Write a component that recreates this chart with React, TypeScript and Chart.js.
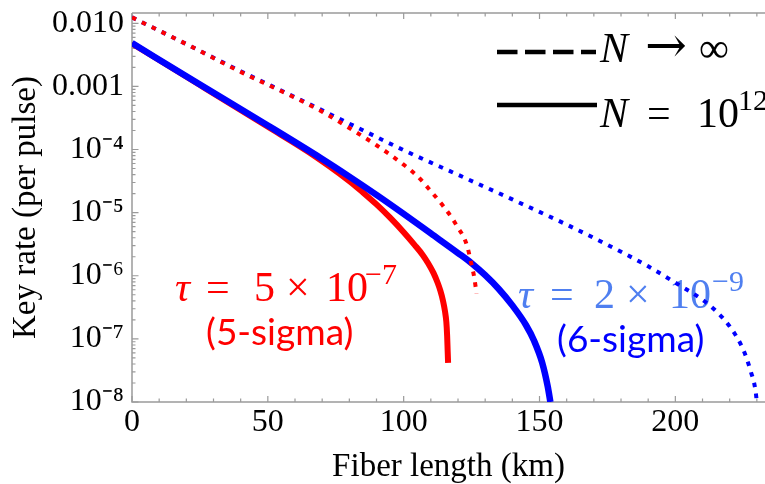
import React, { useEffect, useRef } from "react";
import { Chart, registerables } from "chart.js";

Chart.register(...registerables);

// ---------- axis ticks ----------
const xTickValues = [0, 50, 100, 150, 200];
const yTickValues = [1e-8, 1e-7, 1e-6, 1e-5, 1e-4, 1e-3, 1e-2];
const yTickLabels = ["10⁻⁸", "10⁻⁷", "10⁻⁶", "10⁻⁵", "10⁻⁴", "0.001", "0.010"];
const X_MIN = 0;
const X_MAX = 233;
const Y_MIN = 1e-8;
const Y_MAX = 0.01455;

// ---------- series: N -> infinity, tau = 5e-7 (red dotted) ----------
const redInfKm = [0, 20, 40, 60, 70, 80, 90, 100, 105, 110, 115, 118, 120, 122, 123.5, 125, 126, 126.8];
const redInfRate = [1.24e-2, 4.68e-3, 1.70e-3, 6.61e-4, 3.98e-4, 2.19e-4, 1.17e-4, 5.75e-5, 3.80e-5, 2.19e-5, 1.20e-5, 7.94e-6, 5.75e-6, 4.17e-6, 2.82e-6, 1.48e-6, 9.33e-7, 5.25e-7];

// ---------- series: N -> infinity, tau = 2e-9 (blue dotted) ----------
const blueInfKm = [0, 20, 40, 60, 80, 100, 120, 140, 160, 180, 190, 200, 210, 215, 220, 224, 226, 228, 229, 229.6, 230];
const blueInfRate = [1.24e-2, 4.68e-3, 1.74e-3, 6.76e-4, 2.57e-4, 9.77e-5, 3.98e-5, 1.62e-5, 6.46e-6, 2.40e-6, 1.41e-6, 7.76e-7, 4.17e-7, 2.75e-7, 1.58e-7, 8.32e-8, 5.25e-8, 2.82e-8, 2.00e-8, 1.41e-8, 1.0e-8];

// ---------- series: N = 1e12, tau = 2e-9 (blue solid) ----------
const blueFinKm = [0, 25, 50, 70, 80, 90, 100, 110, 120, 125, 130, 135, 140, 145, 148, 151, 153, 154];
const blueFinRate = [4.86e-3, 1.07e-3, 2.40e-4, 7.08e-5, 3.72e-5, 1.91e-5, 9.55e-6, 4.68e-6, 2.29e-6, 1.58e-6, 1.02e-6, 6.17e-7, 3.39e-7, 1.66e-7, 9.33e-8, 4.17e-8, 1.78e-8, 1.0e-8];

// ---------- series: N = 1e12, tau = 5e-7 (red solid) ----------
const redFinKm = [0, 25, 50, 65, 80, 85, 90, 95, 100, 104, 107, 109, 111, 112.5, 113.5, 114.5, 115.2, 115.7, 116.0, 116.2, 116.35];
const redFinRate = [4.79e-3, 1.05e-3, 2.29e-4, 9.12e-5, 3.16e-5, 2.09e-5, 1.35e-5, 8.32e-6, 4.90e-6, 3.09e-6, 2.14e-6, 1.58e-6, 1.10e-6, 7.76e-7, 5.82e-7, 3.98e-7, 2.75e-7, 1.86e-7, 1.12e-7, 6.31e-8, 4.17e-8];

const SERIF = '"Liberation Serif", "Times New Roman", serif';
const SANS = 'Lato, "Open Sans", sans-serif';
const RED = "#ff0000";
const BLUE = "#0000ff";
const LIGHT_BLUE = "#4f7ff0";

const toPoints = (xs: number[], ys: number[]) => xs.map((x, i) => ({ x, y: ys[i] }));

type Piece = { t: string; x: number; y: number; font: string };

function drawPieces(ctx: CanvasRenderingContext2D, pieces: Piece[], color: string) {
  ctx.save();
  ctx.fillStyle = color;
  ctx.textAlign = "left";
  ctx.textBaseline = "alphabetic";
  for (const p of pieces) {
    ctx.font = p.font;
    ctx.fillText(p.t, p.x, p.y);
  }
  ctx.restore();
}

const bigMath = `42px ${SERIF}`;
const bigMathIt = `italic 42px ${SERIF}`;
const supMath = `30px ${SERIF}`;
const arrowFont = `50px "DejaVu Serif", ${SERIF}`;

const framePlugin = {
  id: "framePlugin",
  beforeDatasetsDraw(chart: any) {
    const ctx: CanvasRenderingContext2D = chart.ctx;
    const { left, right, top, bottom } = chart.chartArea;
    const xs = chart.scales.x;
    const ys = chart.scales.y;
    ctx.save();
    ctx.strokeStyle = "#9a9a9a";
    ctx.lineWidth = 1.5;
    ctx.beginPath();
    ctx.moveTo(left, top);
    ctx.lineTo(right, top);
    ctx.moveTo(left, top);
    ctx.lineTo(left, bottom);
    ctx.lineTo(right, bottom);
    ctx.stroke();
    ctx.lineWidth = 1.2;
    ctx.beginPath();
    for (let v = 0; v <= X_MAX; v += 10) {
      const px = xs.getPixelForValue(v);
      const len = v % 50 === 0 ? 6 : 3.5;
      ctx.moveTo(px, bottom);
      ctx.lineTo(px, bottom - len);
      ctx.moveTo(px, top);
      ctx.lineTo(px, top + len);
    }
    for (let k = -8; k <= -2; k++) {
      for (let m = 1; m <= 9; m++) {
        const v = m * Math.pow(10, k);
        if (v > Y_MAX) continue;
        const py = ys.getPixelForValue(v);
        const len = m === 1 ? 6.5 : 3.5;
        ctx.moveTo(left, py);
        ctx.lineTo(left + len, py);
      }
    }
    ctx.stroke();
    ctx.restore();

    // annotations
    drawPieces(
      ctx,
      [
        { t: "τ", x: 175, y: 301, font: bigMathIt },
        { t: "=", x: 206, y: 301, font: bigMath },
        { t: "5", x: 254, y: 301, font: bigMath },
        { t: "×", x: 286, y: 301, font: bigMath },
        { t: "10", x: 326, y: 301, font: bigMath },
        { t: "−7", x: 365, y: 284, font: supMath },
      ],
      RED
    );
    drawPieces(ctx, [{ t: "(5-sigma)", x: 206, y: 345, font: `37px ${SANS}` }], RED);
    drawPieces(
      ctx,
      [
        { t: "τ", x: 518, y: 308, font: bigMathIt },
        { t: "=", x: 550, y: 308, font: bigMath },
        { t: "2", x: 594, y: 308, font: bigMath },
        { t: "×", x: 626, y: 308, font: bigMath },
        { t: "10", x: 669, y: 308, font: bigMath },
        { t: "−9", x: 712, y: 291, font: supMath },
      ],
      LIGHT_BLUE
    );
    drawPieces(ctx, [{ t: "(6-sigma)", x: 557, y: 352, font: `37px ${SANS}` }], BLUE);
  },
  afterDatasetsDraw(chart: any) {
    const ctx: CanvasRenderingContext2D = chart.ctx;
    ctx.save();
    ctx.strokeStyle = "#000";
    ctx.lineWidth = 4.5;
    ctx.lineCap = "butt";
    ctx.setLineDash([20.5, 7.5]);
    ctx.beginPath();
    ctx.moveTo(497, 52);
    ctx.lineTo(596, 52);
    ctx.stroke();
    ctx.setLineDash([]);
    ctx.beginPath();
    ctx.moveTo(497, 105);
    ctx.lineTo(597, 105);
    ctx.stroke();
    ctx.restore();
    drawPieces(
      ctx,
      [
        { t: "N", x: 600, y: 62, font: bigMathIt },
        { t: "→", x: 645, y: 62, font: arrowFont },
        { t: "∞", x: 699, y: 62, font: bigMath },
        { t: "N", x: 600, y: 127, font: bigMathIt },
        { t: "=", x: 647, y: 127, font: bigMath },
        { t: "10", x: 697, y: 127, font: bigMath },
        { t: "12", x: 738, y: 110, font: supMath },
      ],
      "#000"
    );
  },
};

export default function App() {
  const ref = useRef<HTMLCanvasElement | null>(null);
  useEffect(() => {
    if (!ref.current) return;
    const chart = new Chart(ref.current, {
      type: "line",
      data: {
        datasets: [
          {
            label: "N→∞, τ=5e-7",
            data: toPoints(redInfKm, redInfRate),
            borderColor: RED,
            borderWidth: 4,
            borderDash: [4.5, 6.5],
            pointRadius: 0,
            cubicInterpolationMode: "monotone",
            fill: false,
          },
          {
            label: "N→∞, τ=2e-9",
            data: toPoints(blueInfKm, blueInfRate),
            borderColor: BLUE,
            borderWidth: 4,
            borderDash: [4.5, 6.5],
            pointRadius: 0,
            cubicInterpolationMode: "monotone",
            fill: false,
          },
          {
            label: "N=1e12, τ=2e-9",
            data: toPoints(blueFinKm, blueFinRate),
            borderColor: BLUE,
            borderWidth: 6.5,
            pointRadius: 0,
            cubicInterpolationMode: "monotone",
            fill: false,
          },
          {
            label: "N=1e12, τ=5e-7",
            data: toPoints(redFinKm, redFinRate),
            borderColor: RED,
            borderWidth: 6,
            pointRadius: 0,
            cubicInterpolationMode: "monotone",
            fill: false,
          },
        ],
      },
      options: {
        animation: false,
        responsive: false,
        devicePixelRatio: 1,
        layout: { padding: { top: 13, left: 0, right: 0, bottom: 0 } },
        plugins: { legend: { display: false }, tooltip: { enabled: false } },
        scales: {
          x: {
            type: "linear",
            min: X_MIN,
            max: X_MAX,
            grid: { display: false, drawTicks: false },
            border: { display: false },
            afterBuildTicks: (s: any) => {
              s.ticks = xTickValues.map((v) => ({ value: v }));
            },
            afterFit: (s: any) => {
              s.height = 82;
              s.paddingLeft = 0;
              s.paddingRight = 0;
            },
            ticks: {
              autoSkip: false,
              maxRotation: 0,
              padding: 5,
              color: "#000",
              font: { family: SERIF, size: 32, lineHeight: 1 },
              callback: (v: any) => String(v),
            },
            title: {
              display: true,
              text: "Fiber length (km)",
              color: "#000",
              font: { family: SERIF, size: 33, lineHeight: 1 },
              padding: { top: 0, bottom: 0 },
            },
          },
          y: {
            type: "logarithmic",
            min: Y_MIN,
            max: Y_MAX,
            grid: { display: false, drawTicks: false },
            border: { display: false },
            afterBuildTicks: (s: any) => {
              s.ticks = yTickValues.map((v) => ({ value: v }));
            },
            afterFit: (s: any) => {
              s.width = 132;
              s.paddingTop = 0;
              s.paddingBottom = 0;
            },
            ticks: {
              autoSkip: false,
              padding: 8,
              color: "#000",
              font: { family: SERIF, size: 32, lineHeight: 1 },
              callback: (v: any) => {
                const i = yTickValues.findIndex((t) => Math.abs(Math.log10(t) - Math.log10(v)) < 1e-6);
                return i >= 0 ? yTickLabels[i] : "";
              },
            },
            title: {
              display: true,
              text: "Key rate (per pulse)",
              color: "#000",
              font: { family: SERIF, size: 33, lineHeight: 1 },
              padding: { top: 9.5, bottom: 0 },
            },
          },
        },
      },
      plugins: [framePlugin],
    } as any);
    return () => chart.destroy();
  }, []);
  return (
    <div style={{ position: "absolute", left: 0, top: 0, width: 765, height: 484, background: "#fff" }}>
      <canvas ref={ref} width={765} height={484} style={{ display: "block" }} />
    </div>
  );
}
